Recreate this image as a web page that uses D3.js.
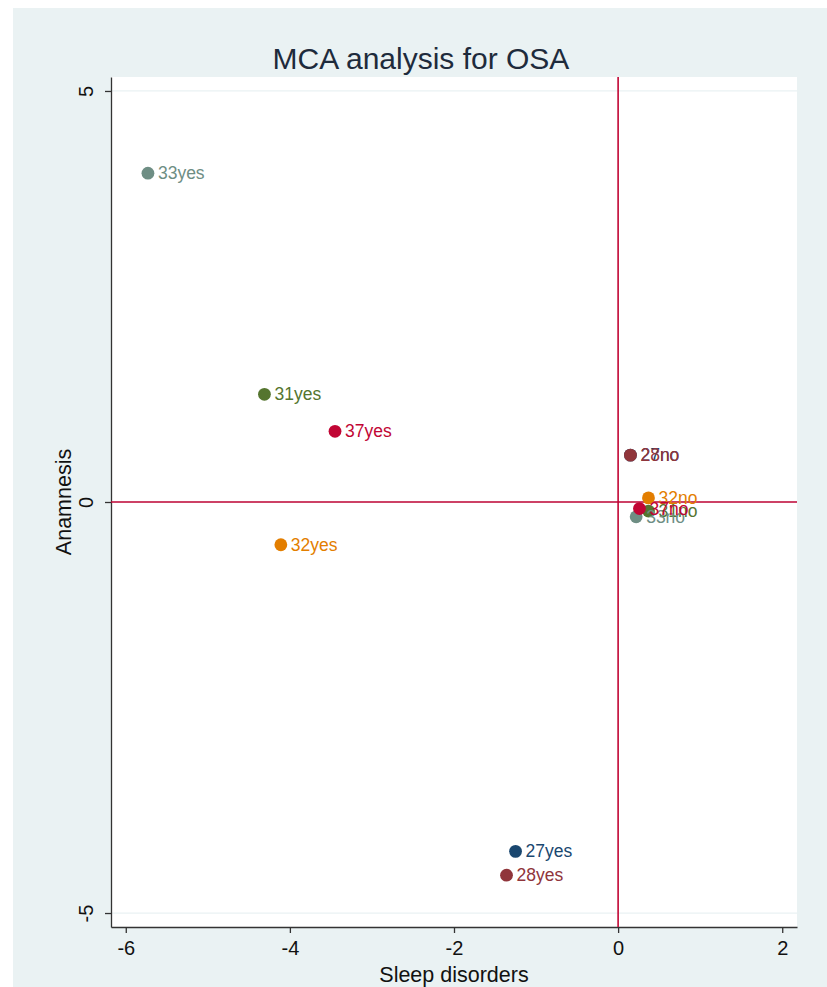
<!DOCTYPE html>
<html>
<head>
<meta charset="utf-8">
<script src="https://cdn.jsdelivr.net/npm/d3@7"></script>
<style>
  body { margin: 0; background: #ffffff; }
  svg { display: block; font-family: "Liberation Sans", Arial, sans-serif; }
</style>
</head>
<body>
<div id="chart"></div>
<script>
// category points (MCA coordinates)
const labels = ["27yes", "27no", "28yes", "28no", "31yes", "31no", "32yes", "32no", "33yes", "33no", "37yes", "37no"];
const xVals  = [-1.25, 0.15, -1.36, 0.15, -4.31, 0.37, -4.11, 0.37, -5.73, 0.22, -3.45, 0.26];
const yVals  = [-4.25, 0.57, -4.54, 0.57, 1.31, -0.11, -0.52, 0.05, 4.00, -0.18, 0.86, -0.08];
const groups = ["27", "27", "28", "28", "31", "31", "32", "32", "33", "33", "37", "37"];
const groupColors = {"27": "#1a476f", "28": "#90353b", "31": "#55752f", "32": "#e37e00", "33": "#6e8e84", "37": "#c10534"};
const xTicks = [-6, -4, -2, 0, 2];
const yTicks = [-5, 0, 5];

const W = 827, H = 987;
const margin = {left: 111, right: 30, top: 77, bottom: 60};
const fmt = d => String(d);   // plain hyphen minus like Stata

const svg = d3.select("#chart").append("svg")
  .attr("width", W).attr("height", H);

// graph region background
svg.append("rect")
  .attr("x", 13).attr("y", 8)
  .attr("width", W - 13).attr("height", H - 8)
  .attr("fill", "#eaf2f3");

const x = d3.scaleLinear().domain([-6.18, 2.18]).range([margin.left, W - margin.right]);
const y = d3.scaleLinear().domain([-5.17, 5.17]).range([H - margin.bottom, margin.top]);

// plot region
svg.append("rect")
  .attr("x", margin.left).attr("y", margin.top)
  .attr("width", W - margin.right - margin.left)
  .attr("height", H - margin.bottom - margin.top)
  .attr("fill", "#ffffff");

// grid lines
svg.append("g").selectAll("line")
  .data(yTicks)
  .enter().append("line")
  .attr("x1", margin.left).attr("x2", W - margin.right)
  .attr("y1", d => y(d)).attr("y2", d => y(d))
  .attr("stroke", "#eaf2f3").attr("stroke-width", 1.2);

// axes
const xAxis = svg.append("g")
  .attr("transform", `translate(0,${H - margin.bottom})`)
  .call(d3.axisBottom(x).tickValues(xTicks).tickFormat(fmt).tickSize(6).tickPadding(8).tickSizeOuter(0));
xAxis.select(".domain").attr("stroke", "#333").attr("stroke-width", 1.3);
xAxis.selectAll(".tick line").attr("stroke", "#333").attr("stroke-width", 1.3);
xAxis.selectAll(".tick text").attr("font-size", 20).attr("fill", "#111");

const yAxis = svg.append("g")
  .attr("transform", `translate(${margin.left},0)`)
  .call(d3.axisLeft(y).tickValues(yTicks).tickFormat(fmt).tickSize(6).tickPadding(8).tickSizeOuter(0));
yAxis.select(".domain").attr("stroke", "#333").attr("stroke-width", 1.3);
yAxis.selectAll(".tick line").attr("stroke", "#333").attr("stroke-width", 1.3);
yAxis.selectAll(".tick text")
  .attr("font-size", 20).attr("fill", "#111")
  .attr("text-anchor", "middle")
  .attr("x", 0).attr("y", 0).attr("dy", "0")
  .attr("transform", "translate(-18,0) rotate(-90)");

// reference lines at zero
svg.append("line")
  .attr("x1", x(0)).attr("x2", x(0))
  .attr("y1", margin.top).attr("y2", H - margin.bottom)
  .attr("stroke", "#c10534").attr("stroke-width", 1.6);
svg.append("line")
  .attr("x1", margin.left).attr("x2", W - margin.right)
  .attr("y1", y(0)).attr("y2", y(0))
  .attr("stroke", "#c10534").attr("stroke-width", 1.6);

// points + marker labels
const pts = labels.map((l, i) => ({label: l, x: xVals[i], y: yVals[i], g: groups[i]}));
const pg = svg.append("g").selectAll("g")
  .data(pts)
  .enter().append("g");
pg.append("circle")
  .attr("cx", d => x(d.x)).attr("cy", d => y(d.y))
  .attr("r", 6.4)
  .attr("fill", d => groupColors[d.g]);
pg.append("text")
  .attr("x", d => x(d.x) + 10).attr("y", d => y(d.y))
  .attr("dy", "0.35em")
  .attr("font-size", 17.5)
  .attr("fill", d => groupColors[d.g])
  .text(d => d.label);

// title and axis titles
svg.append("text")
  .attr("x", 421).attr("y", 69)
  .attr("text-anchor", "middle")
  .attr("font-size", 30).attr("fill", "#1e2b3c")
  .text("MCA analysis for OSA");

svg.append("text")
  .attr("x", (margin.left + W - margin.right) / 2).attr("y", 982)
  .attr("text-anchor", "middle")
  .attr("font-size", 21.5).attr("fill", "#111")
  .text("Sleep disorders");

svg.append("text")
  .attr("transform", `translate(71,${(margin.top + H - margin.bottom) / 2}) rotate(-90)`)
  .attr("text-anchor", "middle")
  .attr("font-size", 21.5).attr("fill", "#111")
  .text("Anamnesis");
</script>
</body>
</html>
